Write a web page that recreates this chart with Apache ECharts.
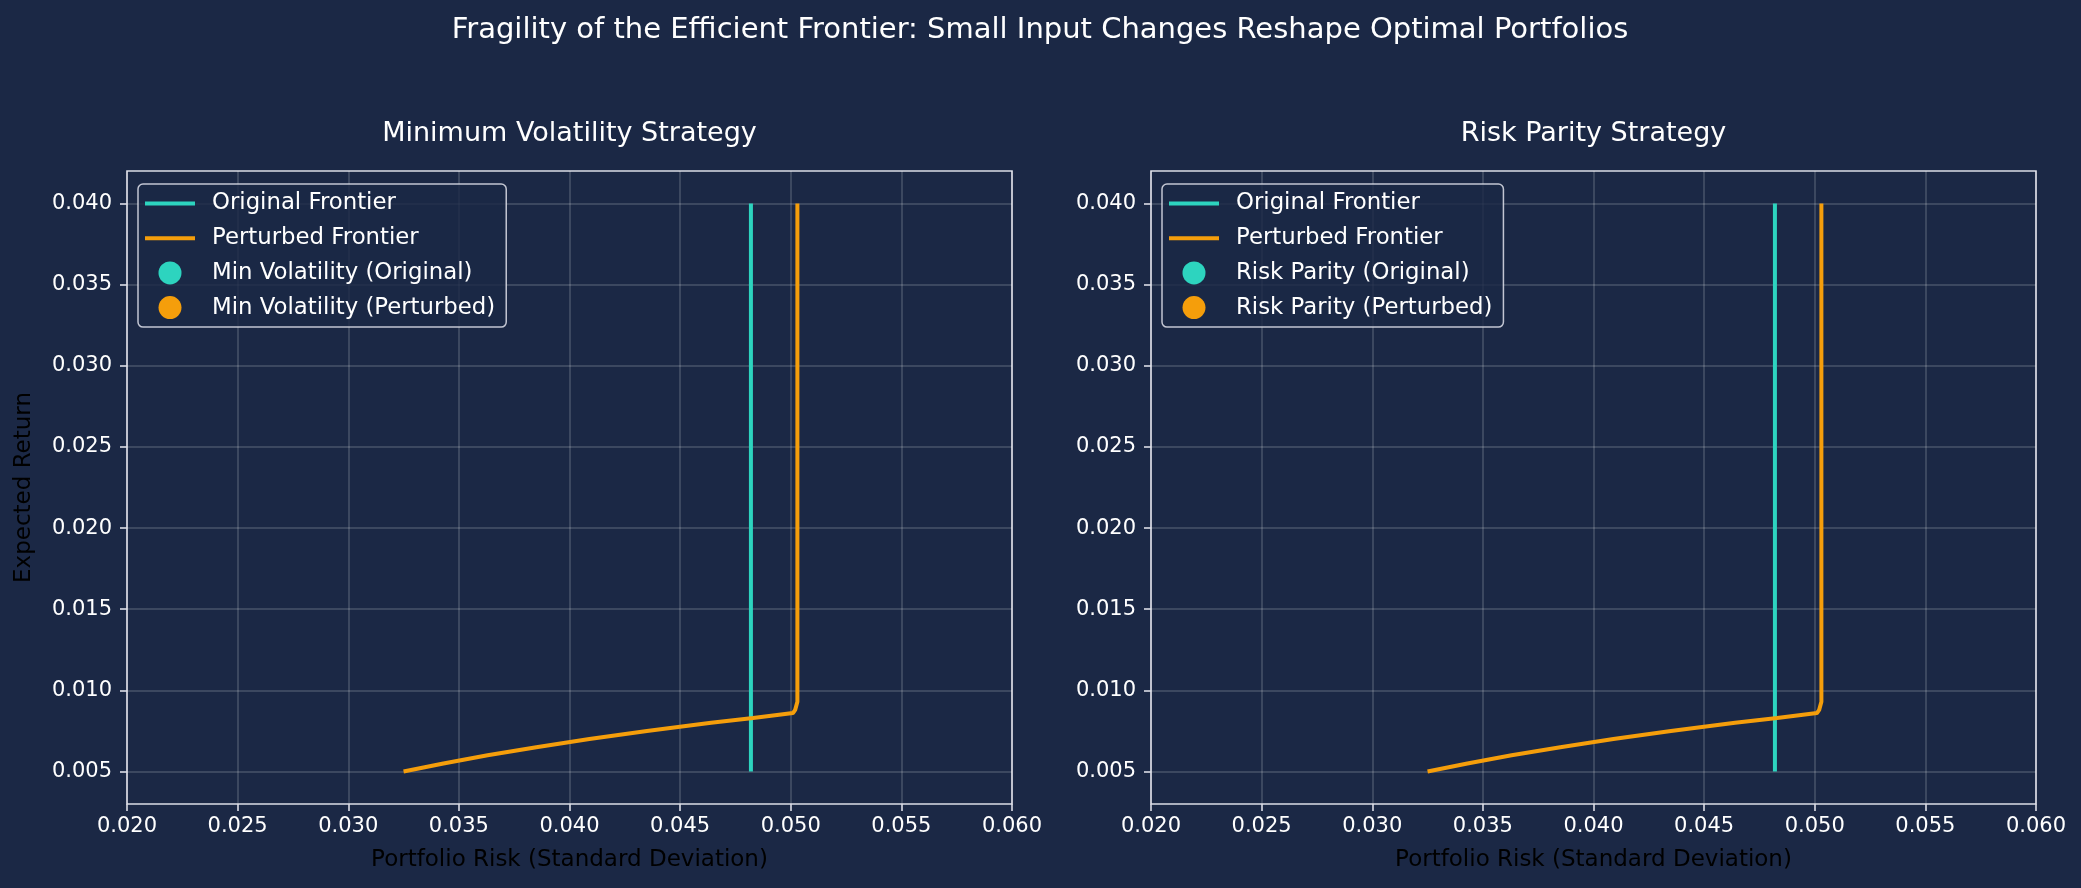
<!DOCTYPE html>
<html>
<head>
<meta charset="utf-8">
<script src="https://cdn.jsdelivr.net/npm/echarts@6/dist/echarts.min.js"></script>
<style>
  html, body { margin: 0; padding: 0; background: #1b2845; }
  #main { width: 2081px; height: 888px; }
</style>
</head>
<body>
<div id="main"></div>
<script>
// values
var origReturn = [0.005, 0.010, 0.015, 0.020, 0.025, 0.030, 0.035, 0.040];
var origRisk = [0.0482, 0.0482, 0.0482, 0.0482, 0.0482, 0.0482, 0.0482, 0.0482];

var pertReturn = [0.0050, 0.0055, 0.0060, 0.0065, 0.0070, 0.0075, 0.0080, 0.0083, 0.0086,
                  0.0088, 0.0093, 0.0100, 0.0150, 0.0200, 0.0250, 0.0300, 0.0350, 0.0400];
var pertRisk = [0.0325, 0.0343, 0.0363, 0.0385, 0.0409, 0.0435, 0.0464, 0.0483, 0.0501,
                0.0502, 0.0503, 0.0503, 0.0503, 0.0503, 0.0503, 0.0503, 0.0503, 0.0503];

var yTicks = [0.005, 0.010, 0.015, 0.020, 0.025, 0.030, 0.035, 0.040];

var panels = [
  { title: 'Minimum Volatility Strategy', label: 'Min Volatility' },
  { title: 'Risk Parity Strategy', label: 'Risk Parity' }
];

var TEAL = '#2dd4bf';
var ORANGE = '#f59e0b';
var BG = '#1b2845';
var SPINE = '#dcdde6';
var GRIDC = 'rgba(255,255,255,0.2)';
var FONT = 'DejaVu Sans';

function pairs(xs, ys) {
  return xs.map(function (x, i) { return [x, ys[i]]; });
}

var gridLeft = [127, 1151];
var gridW = 885;

var myChart = echarts.init(document.getElementById('main'));
var option = {
  backgroundColor: BG,
  textStyle: { fontFamily: FONT },
  animation: false,
  title: [
    {
      text: 'Fragility of the Efficient Frontier: Small Input Changes Reshape Optimal Portfolios',
      left: 1040, top: 16, textAlign: 'center', padding: 0,
      textStyle: { color: '#ffffff', fontSize: 29, fontWeight: 'normal', fontFamily: FONT }
    }
  ],
  legend: [],
  grid: [],
  xAxis: [],
  yAxis: [],
  series: []
};

panels.forEach(function (p, k) {
  option.title.push({
    text: p.title,
    left: gridLeft[k] + gridW / 2, top: 120, textAlign: 'center', padding: 0,
    textStyle: { color: '#ffffff', fontSize: 27, fontWeight: 'normal', fontFamily: FONT }
  });
  option.grid.push({
    left: gridLeft[k], top: 171, width: gridW, height: 633,
    show: true, borderColor: SPINE, borderWidth: 1.6, backgroundColor: BG
  });
  option.xAxis.push({
    type: 'value', gridIndex: k, min: 0.02, max: 0.06, interval: 0.005,
    name: 'Portfolio Risk (Standard Deviation)', nameLocation: 'middle', nameGap: 45,
    nameTextStyle: { color: '#000000', fontSize: 23, fontFamily: FONT },
    axisLine: { show: false },
    axisTick: { show: true, inside: false, length: 7, lineStyle: { color: SPINE, width: 1.6 } },
    axisLabel: { color: '#ffffff', fontSize: 21, margin: 12, fontFamily: FONT,
      formatter: function (v) { return v.toFixed(3); } },
    splitLine: { show: true, lineStyle: { color: GRIDC, width: 1.5 } }
  });
  option.yAxis.push({
    type: 'value', gridIndex: k, min: 0.003, max: 0.042, splitNumber: 8,
    name: k === 0 ? 'Expected Return' : '', nameLocation: 'middle', nameGap: 91,
    nameTextStyle: { color: '#000000', fontSize: 23, fontFamily: FONT },
    axisLine: { show: false },
    axisTick: { show: true, inside: false, length: 7, customValues: yTicks,
      lineStyle: { color: SPINE, width: 1.6 } },
    axisLabel: { color: '#ffffff', fontSize: 21, margin: 15, fontFamily: FONT, customValues: yTicks,
      formatter: function (v) { return v.toFixed(3); } },
    splitLine: { show: true, lineStyle: { color: GRIDC, width: 1.5 } }
  });

  var lineIcon = 'path://M0,0H50V4H0Z';
  option.legend.push({
    orient: 'vertical', left: gridLeft[k] + 11, top: 184,
    itemWidth: 50, itemHeight: 23, itemGap: 11.7,
    padding: [8, 11, 8, 7],
    backgroundColor: 'rgba(27,40,69,0.82)',
    borderColor: 'rgba(225,226,235,0.85)', borderWidth: 1.5, borderRadius: 5,
    selectedMode: false,
    itemStyle: { borderWidth: 0 },
    textStyle: { color: '#ffffff', fontSize: 22.8, lineHeight: 23, fontFamily: FONT, padding: [0, 0, 0, 12] },
    data: [
      { name: 'Original Frontier', icon: lineIcon },
      { name: 'Perturbed Frontier', icon: lineIcon },
      { name: p.label + ' (Original)', icon: 'circle' },
      { name: p.label + ' (Perturbed)', icon: 'circle' }
    ]
  });

  option.series.push(
    {
      name: 'Original Frontier', type: 'line', xAxisIndex: k, yAxisIndex: k,
      data: pairs(origRisk, origReturn), symbol: 'none', z: 3,
      lineStyle: { color: TEAL, width: 4 }, itemStyle: { color: TEAL }
    },
    {
      name: 'Perturbed Frontier', type: 'line', xAxisIndex: k, yAxisIndex: k,
      data: pairs(pertRisk, pertReturn), symbol: 'none', z: 3,
      lineStyle: { color: ORANGE, width: 4 }, itemStyle: { color: ORANGE }
    },
    {
      name: p.label + ' (Original)', type: 'scatter', xAxisIndex: k, yAxisIndex: k,
      data: [], itemStyle: { color: TEAL, opacity: 1 }
    },
    {
      name: p.label + ' (Perturbed)', type: 'scatter', xAxisIndex: k, yAxisIndex: k,
      data: [], itemStyle: { color: ORANGE, opacity: 1 }
    }
  );
});

option && myChart.setOption(option);
</script>
</body>
</html>
